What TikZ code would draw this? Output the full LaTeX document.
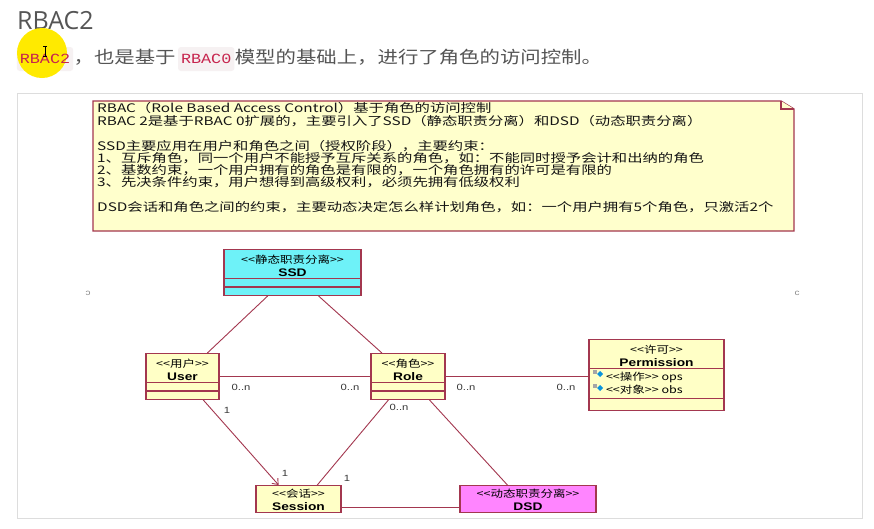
\documentclass[tikz,border=0pt]{standalone}
\usepackage{fontspec}
\setmainfont{Liberation Sans}
\newfontfamily\pagetitle{Open Sans}
\newfontfamily\pagecjk[FakeStretch=1.2]{Noto Sans CJK SC}
\newfontfamily\pagecode[FakeStretch=1.2]{Liberation Mono}
\newfontfamily\notecjk[FakeStretch=1.3]{Noto Sans CJK SC}
\newfontfamily\umlcjk[FakeStretch=1.25]{Noto Sans CJK SC}
\newfontfamily\umllatin[FakeStretch=1.25]{Liberation Sans}
\usetikzlibrary{arrows.meta,calc,positioning,shapes.multipart,shapes.geometric}
\definecolor{rbink}{HTML}{555555}
\definecolor{rbcode}{HTML}{C7254E}
\definecolor{rbchip}{HTML}{F6F1F2}
\definecolor{rbmark}{HTML}{FFEA00}
\definecolor{rbframe}{HTML}{DDDDDD}
\definecolor{rbred}{HTML}{A3374F}
\definecolor{rbnote}{HTML}{FFFFCC}
\definecolor{rbclass}{HTML}{FFFFC6}
\definecolor{rbcyan}{HTML}{6EF2F8}
\definecolor{rbpink}{HTML}{FF85FF}
\definecolor{rbtext}{HTML}{151515}
\newcommand\umlster[1]{{\fontsize{10}{13}\umlcjk #1}}
\newcommand\umlname[1]{{\fontsize{11}{13}\umllatin\bfseries #1}}
\newcommand\umlhead[3][12pt]{\rule{0pt}{#1}\umlster{#2}\\\umlname{#3}\rule[-1pt]{0pt}{1pt}}
\tikzset{
  rb title/.style={font=\fontsize{25}{30}\pagetitle, text=rbink, inner sep=0pt, anchor=base west},
  rb body/.style={font=\fontsize{17}{20}\pagecjk, text=rbink, inner sep=0pt},
  rb chip/.style={fill=rbchip, rounded corners=3pt, inner xsep=3pt, minimum height=24pt,
    font=\fontsize{14}{16}\pagecode, text=rbcode},
  rb code/.style={font=\fontsize{14}{16}\pagecode, text=rbcode, inner sep=0pt},
  rb frame/.style={draw=rbframe, line width=1pt, fill=white},
  rb note/.style={draw=rbred, line width=1.3pt, fill=rbnote, line join=miter},
  rb note text/.style={font=\fontsize{11.8}{12.4}\notecjk, text=rbtext, inner sep=0pt, anchor=west},
  rb class/.style={rectangle split, rectangle split parts=3, draw=rbred, line width=1.1pt,
    fill=rbclass, align=center, inner xsep=2pt, inner ysep=1pt, anchor=north,
    rectangle split empty part height=5pt, font=\fontsize{11}{13}\selectfont},
  rb assoc/.style={draw=rbred, line width=0.9pt},
  rb mult/.style={font=\fontsize{9}{10}\umllatin, text=rbtext!85, inner sep=0pt},
  rb stray/.style={font=\fontsize{8}{9}\umllatin, text=black!45, inner sep=0pt}
}
\begin{document}
\begin{tikzpicture}[x=1pt, y=-1pt]
  \useasboundingbox (0,0) rectangle (874,528);
  \fill[white] (0,0) rectangle (874,528);
  % heading and intro line
  \node[rb title] (title) at (17,29) {RBAC2};
  \node[rb chip, text opacity=0] (chip-a) at (45,59) {RBAC2};
  \fill[rbmark] (42,53) circle (25);
  \node[rb code] at (chip-a) {RBAC2};
  \draw[black, line width=0.6pt] (43,46) -- (47,46) (45,46) -- (45,56) (43,56) -- (47,56);
  \node[rb body, base right=0pt of chip-a] (intro-a) {，也是基于};
  \node[rb chip, base right=2pt of intro-a] (chip-b) {RBAC0};
  \node[rb body, base right=0pt of chip-b] (intro-b) {模型的基础上，进行了角色的访问控制。};
  % screenshot frame
  \draw[rb frame] (17,93) rectangle (862,518);
  \node[rb stray] (mark-l) at (88,293) {\scalebox{-1}[1]{c}};
  \node[rb stray] (mark-r) at (797,293) {c};
  \begin{scope}
    \clip (18,94) rectangle (861,512.5);
    % note
    \draw[rb note] (93,101) -- (781,101) -- (794,109) -- (794,231) -- (93,231) -- cycle;
    \draw[rb note] (781,101) -- (781,109) -- (794,109);
    \foreach \yy/\txt in {
      108.5/RBAC（Role Based Access Control）基于角色的访问控制,
      120.9/RBAC 2是基于RBAC 0扩展的，主要引入了SSD（静态职责分离）和DSD（动态职责分离）,
      145.6/SSD主要应用在用户和角色之间（授权阶段），主要约束：,
      157.9/1、互斥角色，同一个用户不能授予互斥关系的角色，如：不能同时授予会计和出纳的角色,
      170.3/2、基数约束，一个用户拥有的角色是有限的，一个角色拥有的许可是有限的,
      182.6/3、先决条件约束，用户想得到高级权利，必须先拥有低级权利,
      207.3/DSD会话和角色之间的约束，主要动态决定怎么样计划角色，如：一个用户拥有5个角色，只激活2个}
      \node[rb note text] at (97,\yy) {\txt};
    % classes
    \node[rb class, fill=rbcyan, minimum width=137pt] (ssd) at (292.5,249)
      {\umlhead{<<静态职责分离>>}{SSD}\nodepart{two}\nodepart{three}};
    \node[rb class, minimum width=73pt] (user) at (182.5,353)
      {\umlhead{<<用户>>}{User}\nodepart{two}\nodepart{three}};
    \node[rb class, minimum width=74pt] (role) at (408,353)
      {\umlhead{<<角色>>}{Role}\nodepart{two}\nodepart{three}};
    \node[rb class, minimum width=135pt, rectangle split empty part height=9pt,
      rectangle split part align={center,left,center}] (perm) at (656.5,339)
      {\umlhead{<<许可>>}{Permission}
       \nodepart{two}\rule{0pt}{10pt}\hspace*{15pt}{\fontsize{10}{14}\umlcjk <<操作>> ops}\\
         \hspace*{15pt}{\fontsize{10}{14}\umlcjk <<对象>> obs}\rule[-4pt]{0pt}{4pt}
       \nodepart{three}};
    \node[rb class, minimum width=85pt] (session) at (298.5,485)
      {\umlhead[10pt]{<<会话>>}{Session}\nodepart{two}\nodepart{three}};
    \node[rb class, fill=rbpink, minimum width=136pt] (dsd) at (528,485)
      {\umlhead[10pt]{<<动态职责分离>>}{DSD}\nodepart{two}\nodepart{three}};
    % attribute icons
    \foreach \yy in {374,388} {
      \fill[black!35] (593,\yy-4) rectangle (597,\yy);
      \fill[cyan!80!blue] (600,\yy-3) -- (603,\yy) -- (600,\yy+3) -- (597,\yy) -- cycle;
    }
    % associations
    \draw[rb assoc] (ssd) -- (user);
    \draw[rb assoc] (ssd) -- (role);
    \draw[rb assoc] (user) -- (role);
    \draw[rb assoc] (role.east) -- (perm.west |- role.east);
    \draw[rb assoc, -{Straight Barb[length=5pt,width=8pt]}] (user) -- (session);
    \draw[rb assoc] (role) -- (session);
    \draw[rb assoc] (role) -- (dsd);
    \draw[rb assoc] (session) -- (dsd);
    % multiplicities
    \node[rb mult] (m-ur) at (241,387) {0..n};
    \node[rb mult] (m-ru) at (350,387) {0..n};
    \node[rb mult] (m-rp) at (466,387) {0..n};
    \node[rb mult] (m-pr) at (566,387) {0..n};
    \node[rb mult] (m-us) at (227,410) {1};
    \node[rb mult] (m-su) at (285,473) {1};
    \node[rb mult] (m-rs) at (399,407) {0..n};
    \node[rb mult] (m-sr) at (347,478) {1};
  \end{scope}
\end{tikzpicture}
\end{document}
